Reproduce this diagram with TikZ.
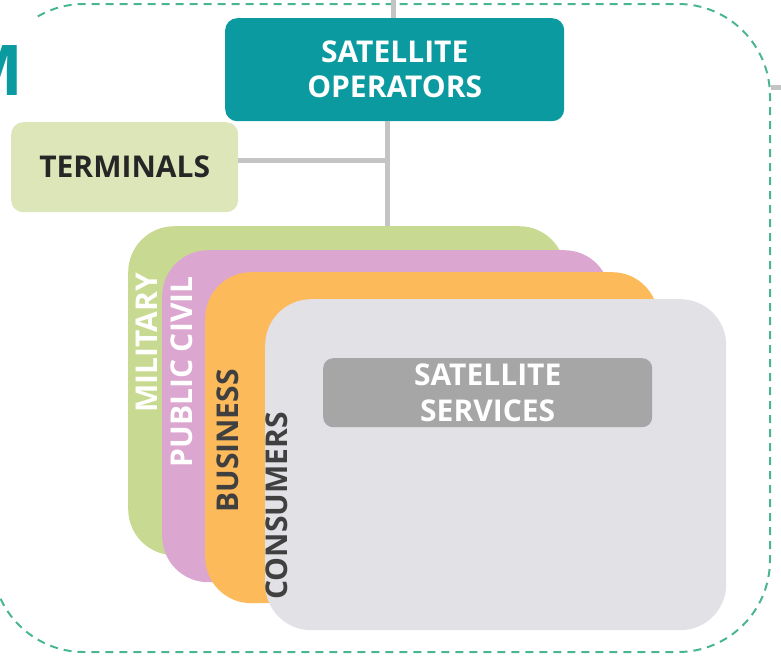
\documentclass[tikz,border=0pt]{standalone}
\usepackage{fontspec}
\setmainfont{Open Sans}
\definecolor{opteal}{RGB}{10,154,160}
\definecolor{termgreen}{RGB}{221,230,185}
\definecolor{milgreen}{RGB}{200,218,145}
\definecolor{civpink}{RGB}{219,166,207}
\definecolor{busorange}{RGB}{253,186,91}
\definecolor{congray}{RGB}{225,225,230}
\definecolor{svcgray}{RGB}{166,166,166}
\definecolor{linegray}{RGB}{196,196,196}
\definecolor{dashgreen}{RGB}{74,181,148}
\definecolor{darktext}{RGB}{64,64,64}
\begin{document}
\begin{tikzpicture}[x=1pt,y=-1pt,
  lbl/.style={font=\fontsize{30}{36}\selectfont\bfseries, align=center},
  boxbase/.style={rectangle, anchor=north west, inner sep=0pt},
  layer/.style={boxbase, rounded corners=46pt},
  conn/.style={draw=linegray, line width=5pt},
  sidelbl/.style={lbl, rotate=90}
]
\useasboundingbox (0,0) rectangle (781,656);
% outer dashed frame
\draw[dashgreen, line width=2pt, dash pattern=on 8pt off 6pt, rounded corners=92pt] (-8,4) rectangle (770,652);
% title fragment
\fill[white] (-20,14) rectangle (35,115);
\node[anchor=base east, text=opteal, font=\fontsize{70}{70}\selectfont\bfseries, inner sep=0pt] (title) at (24,95) {M};
% connectors
\coordinate (j) at (387,160);
\coordinate (topin) at (393,0);
\coordinate (rightout) at (781,87);
\coordinate (rightin) at (771,87);
% boxes
\node[boxbase, rounded corners=12pt, fill=opteal, minimum width=339pt, minimum height=103pt, text=white, lbl] (ops) at (225,18) {SATELLITE\\[-1pt]OPERATORS};
\node[boxbase, rounded corners=12pt, fill=termgreen, minimum width=227pt, minimum height=90pt, text=black!85, lbl] (term) at (11,122) {TERMINALS};
\node[layer, fill=milgreen, minimum width=437pt, minimum height=329pt] (mil) at (128,226) {};
\draw[conn] (topin) -- (topin |- ops.north);
\draw[conn] (ops.south -| j) -- (j |- mil.north);
\draw[conn] (term.east |- j) -- (j);
\draw[conn] (rightin) -- (rightout);
\node[layer, fill=civpink, minimum width=448pt, minimum height=332pt] (civ) at (162,250) {};
\node[layer, fill=busorange, minimum width=453pt, minimum height=331pt] (bus) at (205,272) {};
\node[layer, fill=congray, minimum width=461pt, minimum height=331pt] (con) at (265,299) {};
\node[boxbase, rounded corners=10pt, fill=svcgray, minimum width=329pt, minimum height=69pt, text=white, lbl] (svc) at (323,358) {SATELLITE\\[0pt]SERVICES};
% side labels
\node[sidelbl, text=white] (milt) at (147,343) {MILITARY};
\node[sidelbl, text=white] (civt) at (182,372) {PUBLIC CIVIL};
\node[sidelbl, text=darktext] (bust) at (228,441) {BUSINESS};
\node[sidelbl, text=darktext] (cont) at (277,506) {CONSUMERS};
\end{tikzpicture}
\end{document}
